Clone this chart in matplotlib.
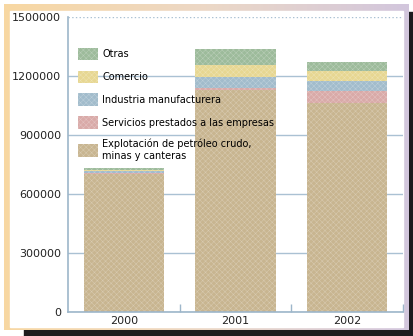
import numpy as np
import matplotlib
matplotlib.use("Agg")
import matplotlib.pyplot as plt
from matplotlib.patches import Rectangle, Patch
from matplotlib.colors import to_rgb

# PIB por actividad económica (miles)
years = ["2000", "2001", "2002"]
labels = [
    "Explotación de petróleo crudo,\nminas y canteras",
    "Servicios prestados a las empresas",
    "Industria manufacturera",
    "Comercio",
    "Otras",
]
explotacion = [700000, 1130000, 1063000]
servicios = [8000, 9000, 61000]
industria = [8000, 56000, 51000]
comercio = [4000, 61000, 50000]
otras = [10000, 81000, 46000]
yticks = [0, 300000, 600000, 900000, 1200000, 1500000]

colors = ["#c8b590", "#d9aaa8", "#a2bccc", "#e7d792", "#9dbb9b"]
axis_color = "#9db6ca"

plt.rcParams["hatch.linewidth"] = 0.35


def lighter(c, k=0.3):
    r = np.array(to_rgb(c))
    return tuple(r + (1 - r) * k)


W, H = 414, 336
fig = plt.figure(figsize=(W / 100, H / 100), dpi=100)

# sombra oscura detrás del marco
fig.patches.append(Rectangle((24 / W, 0), 1 - 24 / W, 1 - 12 / H,
                             transform=fig.transFigure, color="#1d1b1e",
                             zorder=-3))

# marco con degradado durazno -> lila
bg = fig.add_axes([4 / W, 6 / H, 405 / W, 326 / H], zorder=-2)
stops = [to_rgb("#f8d7a2"), to_rgb("#ecd8c6"), to_rgb("#d2c6dd")]
t = np.linspace(0, 1, 200)
grad = np.array([np.interp(t, [0, 0.5, 1], [s[i] for s in stops])
                 for i in range(3)]).T
bg.imshow(grad[np.newaxis, :, :], aspect="auto", extent=[0, 1, 0, 1])
bg.axis("off")

fig.patches.append(Rectangle((10 / W, 9 / H), 393 / W, 316 / H,
                             transform=fig.transFigure, color="white",
                             zorder=-1))

ax = fig.add_axes([68 / W, 24 / H, 335 / W, 295 / H], zorder=0)
ax.set_facecolor("none")

x = np.arange(len(years))
bottom = np.zeros(len(years))
for vals, c, lab in zip([explotacion, servicios, industria, comercio, otras],
                        colors, labels):
    ax.bar(x, vals, width=0.72, bottom=bottom, facecolor=c,
           edgecolor=lighter(c), hatch="xxxxxx", label=lab,
           zorder=2, linewidth=0)
    bottom += np.array(vals)

ax.set_xlim(-0.5, 2.5)
ax.set_ylim(0, 1500000)
ax.set_yticks(yticks)
ax.set_yticklabels([str(v) for v in yticks])
ax.set_xticks(x)
ax.set_xticklabels(years)
ax.set_xticks([0.5, 1.5, 2.5], minor=True)
ax.tick_params(axis="x", which="major", length=0, pad=3, labelsize=8,
               labelcolor="#222222")
ax.tick_params(axis="x", which="minor", direction="in", length=6,
               color=axis_color, width=1)
ax.tick_params(axis="y", length=0, pad=5, labelsize=8, labelcolor="#222222")

ax.yaxis.grid(True, color="#aac1d3", linewidth=1)
ax.get_ygridlines()[-1].set_linestyle(":")
ax.set_axisbelow(True)
for side in ["top", "right"]:
    ax.spines[side].set_visible(False)
for side in ["left", "bottom"]:
    ax.spines[side].set_color(axis_color)
    ax.spines[side].set_linewidth(1.2)

handles = [Patch(facecolor=c, edgecolor=lighter(c), hatch="xxxxxx",
                 linewidth=0, label=l)
           for c, l in zip(colors, labels)][::-1]
ax.legend(handles=handles, loc="upper left", bbox_to_anchor=(0.03, 0.895),
          frameon=False, fontsize=7, handlelength=2.1, handleheight=1.6,
          labelspacing=1.05, handletextpad=0.4, borderpad=0,
          borderaxespad=0)

fig.savefig("out.png", dpi=100)
